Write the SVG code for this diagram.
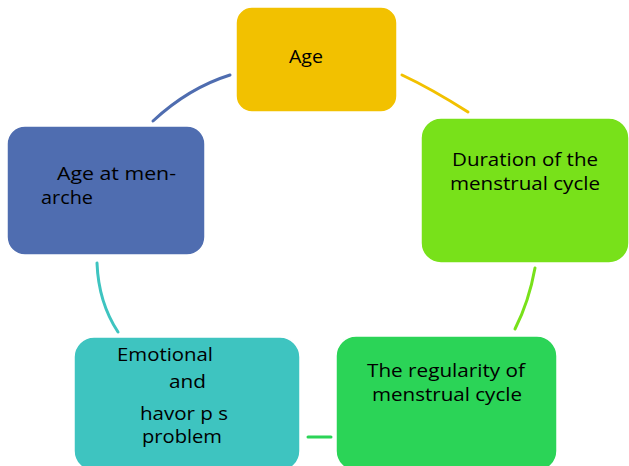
<svg xmlns="http://www.w3.org/2000/svg" width="629" height="466" viewBox="0 0 629 466">
<style>
.box{stroke:#ffffff;stroke-width:1.5}
.t{font-family:"Open Sans","Liberation Sans",sans-serif;font-size:17.5px;fill:#000}
.c{fill:none;stroke-width:3;stroke-linecap:round}
</style>
<rect width="629" height="466" fill="#ffffff"/>
<g id="connectors">
<path class="c" d="M153,121 Q188.5,88 230,75" stroke="#4F6DB0"/>
<path class="c" d="M402,75 Q431,88.5 468,112" stroke="#F2C100"/>
<path class="c" d="M535,268 Q529,301.5 515,329" stroke="#78E11A"/>
<path class="c" d="M331,437 L308,437" stroke="#2BD457"/>
<path class="c" d="M118,332 Q98.5,302.5 97,263" stroke="#3EC4C0"/>
</g>
<g id="age">
<rect class="box" x="236" y="7" width="161" height="105" rx="16" fill="#F2C100"/>
<text class="t" x="289" y="63" textLength="34" lengthAdjust="spacingAndGlyphs">Age</text>
</g>
<g id="duration">
<rect class="box" x="421" y="118" width="208" height="145" rx="20" fill="#78E11A"/>
<text class="t" x="452" y="166" textLength="146" lengthAdjust="spacingAndGlyphs">Duration of the</text>
<text class="t" x="450" y="190" textLength="150" lengthAdjust="spacingAndGlyphs">menstrual cycle</text>
</g>
<g id="regularity">
<rect class="box" x="336" y="336" width="221" height="135" rx="20" fill="#2BD457"/>
<text class="t" x="367" y="377" textLength="158" lengthAdjust="spacingAndGlyphs">The regularity of</text>
<text class="t" x="372" y="401" textLength="150" lengthAdjust="spacingAndGlyphs">menstrual cycle</text>
</g>
<g id="emotional">
<rect class="box" x="74" y="337" width="226" height="134" rx="20" fill="#3EC4C0"/>
<text class="t" x="117" y="361" textLength="96" lengthAdjust="spacingAndGlyphs">Emotional</text>
<text class="t" x="169" y="388" textLength="37" lengthAdjust="spacingAndGlyphs">and</text>
<text class="t" x="140" y="420" textLength="88" lengthAdjust="spacingAndGlyphs">havor p s</text>
<text class="t" x="142" y="443" textLength="80" lengthAdjust="spacingAndGlyphs">problem</text>
</g>
<g id="menarche">
<rect class="box" x="7" y="126" width="198" height="129" rx="18" fill="#4F6DB0"/>
<text class="t" x="57" y="180" textLength="119" lengthAdjust="spacingAndGlyphs">Age at men-</text>
<text class="t" x="41" y="204" textLength="52" lengthAdjust="spacingAndGlyphs">arche</text>
</g>
</svg>
